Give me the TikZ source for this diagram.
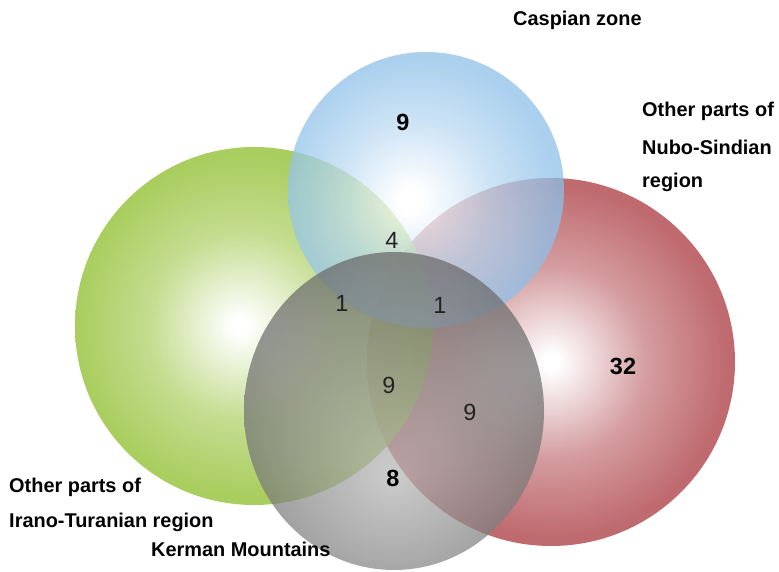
\documentclass[tikz,border=0pt]{standalone}
\usepackage{fontspec}
\setmainfont{Liberation Sans}
\usepackage{xcolor}
\usepackage{tikz}
\definecolor{caspian}{HTML}{8EC0E8}
\definecolor{irano}{HTML}{96C23A}
\definecolor{nubo}{HTML}{B5555A}
\definecolor{kermanIn}{HTML}{B8B8B8}
\definecolor{kermanOut}{HTML}{666666}
\definecolor{numDark}{HTML}{222222}
\colorlet{caspianMid}{caspian!60!white}
\colorlet{iranoMid}{irano!68!white}
\colorlet{nuboMid}{nubo!66!white}
\pgfdeclareradialshading{caspianBall}{\pgfpoint{-3bp}{-2bp}}{color(0bp)=(white); color(2bp)=(white); color(14bp)=(caspianMid); color(25bp)=(caspian); color(50bp)=(caspian)}
\pgfdeclareradialshading{iranoBall}{\pgfpoint{-2bp}{0bp}}{color(0bp)=(white); color(1bp)=(white); color(13bp)=(iranoMid); color(24bp)=(irano); color(50bp)=(irano)}
\pgfdeclareradialshading{nuboBall}{\pgfpoint{0bp}{0bp}}{color(0bp)=(white); color(1bp)=(white); color(13bp)=(nuboMid); color(24bp)=(nubo); color(50bp)=(nubo)}
\pgfdeclareradialshading{kermanBall}{\pgfpoint{0bp}{-10bp}}{color(0bp)=(kermanIn); color(30bp)=(kermanOut); color(50bp)=(kermanOut)}
\tikzset{
  vennLabel/.style={text=black, font=\fontsize{17}{20}\selectfont\bfseries, inner sep=0pt},
  vennText/.style={text=numDark, font=\fontsize{20}{24}\selectfont, inner sep=0pt},
  vennBold/.style={vennText, text=black, font=\fontsize{20}{24}\selectfont\bfseries}
}

\begin{document}
\begin{tikzpicture}[x=0.03cm, y=-0.03cm]
  \useasboundingbox (0,0) rectangle (779,572);
  \def\rC{138}
  \def\rI{179}
  \def\rN{184}
  \coordinate (C) at (426,190);
  \coordinate (I) at (254,326);
  \coordinate (N) at (551,362);
  \coordinate (K) at (394,411);

  \shade[shading=nuboBall, fill opacity=0.88] (N) circle (\rN);
  \shade[shading=iranoBall, fill opacity=0.82] (I) circle (\rI);
  \shade[shading=caspianBall, fill opacity=0.75] (C) circle (\rC);
  \shade[shading=kermanBall, fill opacity=0.72] (K) ellipse (150 and 159);

  \node[vennLabel, anchor=west] (caspLbl) at (513,20) {Caspian zone};
  \node[vennLabel, anchor=west] (nuboLblA) at (642,111) {Other parts of};
  \node[vennLabel, anchor=west] (nuboLblB) at (642,147) {Nubo-Sindian};
  \node[vennLabel, anchor=west] (nuboLblC) at (642,182) {region};
  \node[vennLabel, anchor=west] (iranoLblA) at (9,487) {Other parts of};
  \node[vennLabel, anchor=west] (iranoLblB) at (9,522) {Irano-Turanian region};
  \node[vennLabel, anchor=west] (kermLbl) at (151,549) {Kerman Mountains};

  \node[vennBold] (nC) at (403,122) {9};
  \node[vennText] (nCI) at (392,240) {4};
  \node[vennText] (nCIK) at (342,303) {1};
  \node[vennText] (nCNK) at (440,305) {1};
  \node[vennText] (nINK) at (389,385) {9};
  \node[vennText] (nNK) at (470,412) {9};
  \node[vennBold] (nK) at (393,478) {8};
  \node[vennBold] (nN) at (623,366) {32};
\end{tikzpicture}
\end{document}
